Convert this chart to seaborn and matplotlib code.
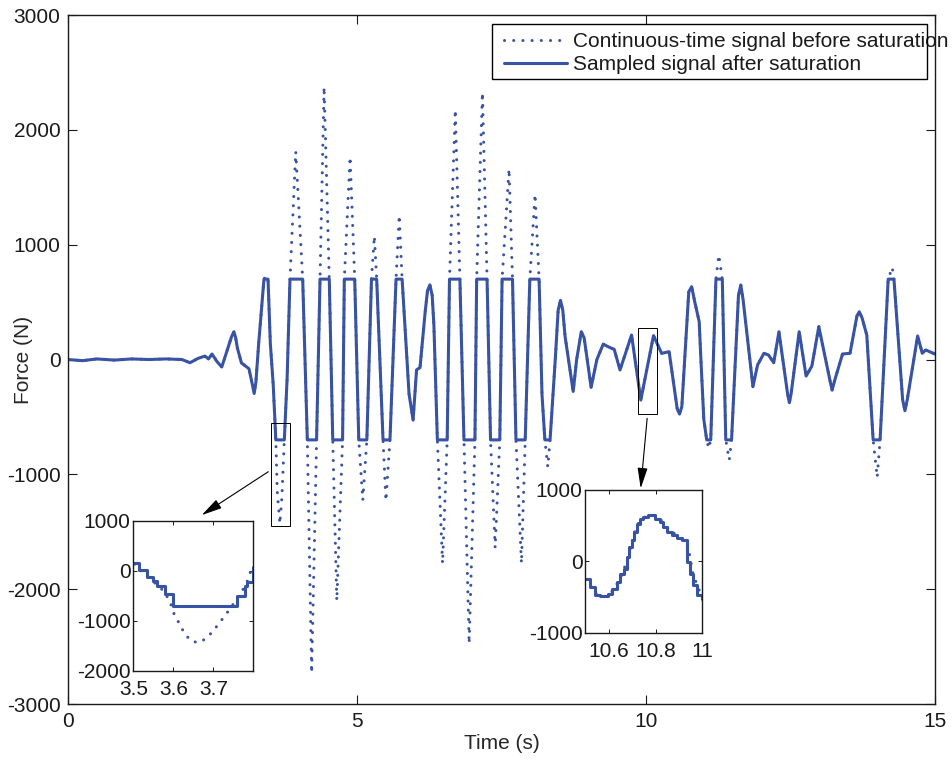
import numpy as np
import pandas as pd
import matplotlib
matplotlib.use("Agg")
import matplotlib.pyplot as plt
from matplotlib.patches import Rectangle
import seaborn as sns

# continuous-time force signal (s, N)
time_s = [0.00, 0.25, 0.50, 0.80, 1.10, 1.40, 1.70, 1.97, 2.11, 2.25, 2.37, 2.43,
          2.49, 2.58, 2.66, 2.78, 2.83, 2.87, 2.90, 2.93, 3.00, 3.13, 3.19, 3.22,
          3.25, 3.30, 3.39, 3.43,
          3.46, 3.50, 3.55, 3.595, 3.62, 3.665, 3.70, 3.742, 3.79, 3.84, 3.94, 4.06,
          4.14, 4.215, 4.30, 4.36, 4.43, 4.52, 4.58, 4.65, 4.75, 4.78, 4.88, 4.96,
          5.03, 5.10, 5.17, 5.25, 5.30, 5.34, 5.45, 5.50, 5.57, 5.675, 5.73, 5.78,
          5.90, 5.97, 6.03, 6.09, 6.18, 6.22, 6.26, 6.30, 6.33, 6.39, 6.48, 6.56,
          6.60, 6.70,
          6.78, 6.85, 6.94, 7.04, 7.07, 7.17, 7.25, 7.31, 7.39, 7.47, 7.51, 7.63,
          7.69, 7.75, 7.845, 7.91, 7.99, 8.08, 8.15, 8.20, 8.25, 8.30, 8.34, 8.43,
          8.48, 8.52, 8.56, 8.60, 8.74, 8.80, 8.88, 8.93, 9.05, 9.15, 9.26, 9.35,
          9.45, 9.55, 9.75, 9.88, 9.91, 9.95, 10.13, 10.27, 10.40, 10.54, 10.58,
          10.62, 10.74, 10.79, 10.84, 10.92, 10.95, 11.00, 11.05,
          11.085, 11.12, 11.21, 11.26, 11.32, 11.38, 11.44, 11.48, 11.60, 11.64,
          11.68, 11.85, 11.93, 12.04, 12.12, 12.21, 12.30, 12.45, 12.48, 12.51,
          12.65, 12.77, 12.87, 12.99, 13.19, 13.22, 13.26, 13.40, 13.53, 13.65,
          13.69, 13.74, 13.82, 13.93, 14.00, 14.05, 14.19, 14.26,
          14.29, 14.44, 14.48, 14.52, 14.70, 14.78, 14.84, 15.00]
force_n = [0, -10, 5, -5, 5, 0, 5, 0, -28, 10, 30, 5,
           48, -20, -65, 120, 200, 242, 190, 100, -30, -80, -220, -296,
           -200, 150, 700, 730,
           700, 140, -220, -700, -1150, -1430, -1200, -700, -170, 700, 1810, 700,
           -700, -2730, -700, 700, 2375, 700, -700, -2100, -700, 700, 1765, 700,
           -700, -1225, -700, 700, 1075, 700, -700, -1230, -700, 700, 1256, 700,
           -300, -528, -90, -70, 420, 600, 650, 560, 300, -700, -1776, -700,
           700, 2175,
           700, -700, -2475, -700, 700, 2325, 700, -700, -1640, -700, 700, 1660,
           700, -700, -1775, -700, 700, 1440, 700, -300, -700, -935, -700, 0,
           430, 515, 430, 200, -278, 0, 242, 188, -242, 0, 134, 110,
           88, -91, 213, -250, -353, -250, 208, 54, 68, -430, -475,
           -410, 590, 634, 510, 330, 0, -520, -700,
           -774, -700, 700, 910, 700, -700, -875, -700, 560, 649,
           520, -237, -48, 54, 39, -28, 242, -300, -376, -300,
           242, -144, -57, 286, -200, -266, -190, 48, 54, 380,
           416, 360, 213, -700, -1026, -700, 700, 803,
           700, -350, -446, -350, 205, 54, 83, 48]
sat_limit = 700

# zoom 1 (3.5 - 3.8 s)
z1_t_cont = [3.504, 3.532, 3.55, 3.567, 3.579, 3.592, 3.60, 3.6125, 3.621, 3.632,
             3.648, 3.667, 3.685, 3.70, 3.715, 3.729, 3.742, 3.754, 3.767, 3.779,
             3.7875, 3.793, 3.80]
z1_f_cont = [133, -100, -220, -333, -447, -620, -833, -1020, -1153, -1300,
             -1420, -1433, -1333, -1200, -1047, -900, -760, -620, -467, -313,
             -167, -20, 60]
z1_t_samp = [3.500, 3.515, 3.533, 3.548, 3.558, 3.579, 3.600, 3.758, 3.779, 3.785, 3.798, 3.80]
z1_f_samp = [150, 15, -130, -200, -300, -470, -700, -510, -300, -230, 70, 70]

# zoom 2 (10.5 - 11 s)
z2_t_cont = [10.50, 10.52, 10.54, 10.56, 10.58, 10.60, 10.62, 10.64, 10.66, 10.68,
             10.70, 10.72, 10.74, 10.76, 10.78, 10.80, 10.82, 10.84, 10.86, 10.88,
             10.90, 10.92, 10.94, 10.95, 10.96, 10.98, 11.00]
z2_f_cont = [-250, -330, -440, -490, -495, -470, -400, -290, -160, 40,
             280, 500, 590, 630, 645, 640, 590, 510, 440, 390,
             340, 290, 200, 0, -180, -350, -520]
z2_t_samp = [10.500, 10.520, 10.541, 10.563, 10.598, 10.613, 10.634, 10.648, 10.665,
             10.677, 10.687, 10.698, 10.708, 10.719, 10.734, 10.748, 10.769, 10.798,
             10.819, 10.830, 10.848, 10.869, 10.890, 10.912, 10.936, 10.947, 10.959,
             10.976, 11.000]
z2_f_samp = [-243, -360, -477, -491, -453, -383, -290, -173, -103,
             61, 201, 294, 411, 528, 598, 621, 645, 598,
             551, 481, 411, 364, 332, 294, -9, -173, -336,
             -477, -523]

x_ticks = [0, 5, 10, 15]
y_ticks = [-3000, -2000, -1000, 0, 1000, 2000, 3000]
legend_labels = ["Continuous-time signal before saturation", "Sampled signal after saturation"]

blue = "#3853a4"
ink = "#1a1a1a"
dots = (0, (0.01, 3.0))
fs = 15

sns.set_theme(style="ticks")
plt.rcParams["font.family"] = ["Liberation Sans", "DejaVu Sans"]
plt.rcParams["font.size"] = fs
plt.rcParams["axes.unicode_minus"] = False
plt.rcParams["axes.edgecolor"] = ink
plt.rcParams["xtick.color"] = ink
plt.rcParams["ytick.color"] = ink
plt.rcParams["text.color"] = ink

df = pd.DataFrame({"t": time_s, "f": force_n})
df["f_sat"] = np.clip(df["f"], -sat_limit, sat_limit)

fig = plt.figure(figsize=(9.53, 7.62), dpi=100)
ax = fig.add_axes([0.0714, 0.0761, 0.9097, 0.9042])

sns.lineplot(data=df, x="t", y="f", ax=ax, color=blue, linewidth=2.2, linestyle=dots,
             dash_capstyle="round", estimator=None, label=legend_labels[0])
sns.lineplot(data=df, x="t", y="f_sat", ax=ax, color=blue, linewidth=2.2,
             estimator=None, label=legend_labels[1])

ax.set_xlim(0, 15)
ax.set_ylim(-3000, 3000)
ax.set_xticks(x_ticks)
ax.set_yticks(y_ticks)
ax.tick_params(direction="in", length=6.2, width=0.8, top=True, right=True, pad=5.5,
               labelsize=fs)
for s in ax.spines.values():
    s.set_linewidth(1.0)
ax.set_xlabel("Time (s)", fontsize=fs)
ax.set_ylabel("Force (N)", fontsize=fs)
ax.xaxis.set_label_coords(0.5, -0.043)
ax.yaxis.set_label_coords(-0.040, 0.5)

# legend text runs past its box in the original, so the box is drawn separately
leg = ax.legend(loc="upper left", bbox_to_anchor=(0.496, 0.984), fontsize=fs,
                handlelength=3.0, handletextpad=0.3, borderpad=0.3, labelspacing=0.2,
                borderaxespad=0, frameon=False)
ax.add_patch(Rectangle((0.489, 0.907), 0.502, 0.0798, transform=ax.transAxes,
                       fill=False, lw=1.0, ec="black", zorder=6, clip_on=False))

# zoom boxes and arrows on the main axes
ax.add_patch(Rectangle((3.507, -1450), 0.334, 900, fill=False, lw=0.7, ec="black", zorder=5))
ax.add_patch(Rectangle((9.867, -477), 0.329, 749, fill=False, lw=0.7, ec="black", zorder=5))
arrow = dict(arrowstyle="-|>,head_length=0.9,head_width=0.22", color="black", lw=0.8,
             mutation_scale=14, shrinkA=0, shrinkB=0)
ax.annotate("", xy=(2.313, -1355), xytext=(3.465, -977), arrowprops=arrow)
ax.annotate("", xy=(9.908, -1122), xytext=(10.02, -512), arrowprops=arrow)

def zoom_axes(rect, t_c, f_c, t_s, f_s, xlim, ylim, xt, xtl, yt):
    a = fig.add_axes(rect)
    sns.lineplot(x=t_c, y=f_c, ax=a, color=blue, linewidth=2.2, linestyle=dots,
                 dash_capstyle="round", estimator=None, legend=False)
    sns.lineplot(x=t_s, y=f_s, ax=a, color=blue, linewidth=2.2, drawstyle="steps-post",
                 estimator=None, legend=False)
    a.set_xlim(*xlim)
    a.set_ylim(*ylim)
    a.set_xticks(xt)
    a.set_xticklabels(xtl)
    a.set_yticks(yt)
    a.set_yticklabels([str(v) for v in yt])
    a.tick_params(direction="in", length=3, width=0.7, top=True, right=True, labelsize=fs)
    a.tick_params(axis="x", pad=7)
    a.tick_params(axis="y", pad=2)
    for s in a.spines.values():
        s.set_linewidth(1.0)
    return a

zoom_axes([0.1399, 0.1198, 0.1259, 0.1969], z1_t_cont, z1_f_cont, z1_t_samp, z1_f_samp,
          (3.5, 3.8), (-2000, 1000), [3.5, 3.6, 3.7], ["3.5", "3.6", "3.7"],
          [-2000, -1000, 0, 1000])
zoom_axes([0.6142, 0.1697, 0.1228, 0.1873], z2_t_cont, z2_f_cont, z2_t_samp, z2_f_samp,
          (10.5, 11.0), (-1000, 1000), [10.6, 10.8, 11.0], ["10.6", "10.8", "11"],
          [-1000, 0, 1000])

fig.savefig("out.png", dpi=100)
